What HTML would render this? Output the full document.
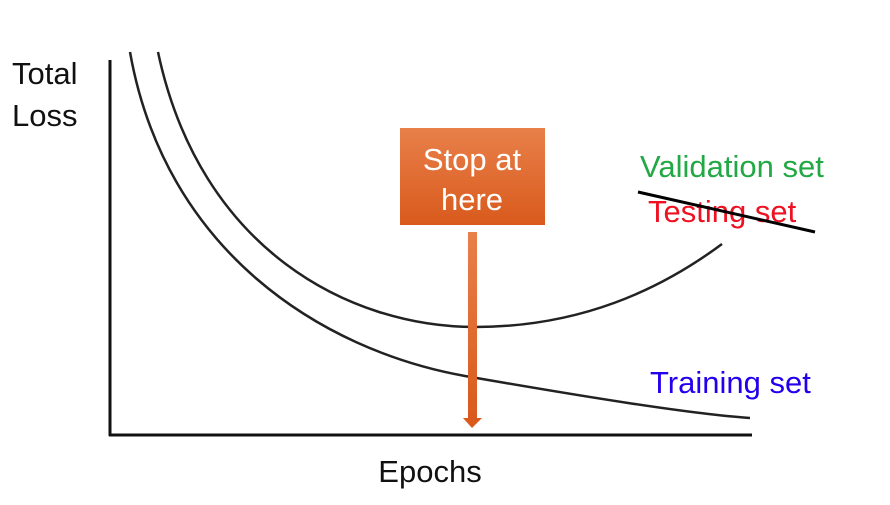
<!DOCTYPE html>
<html><head><style>
body{margin:0;background:#fff;}
svg text{font-family:"Liberation Sans",sans-serif;}
</style></head><body>
<svg width="890" height="500" viewBox="0 0 890 500" xmlns="http://www.w3.org/2000/svg">
<defs>
<linearGradient id="g" x1="0" y1="0" x2="0" y2="1">
<stop offset="0" stop-color="#e8804a"/><stop offset="1" stop-color="#d95a1c"/>
</linearGradient>
</defs>
<line x1="110" y1="60" x2="110" y2="436" stroke="#111" stroke-width="3"/>
<line x1="109" y1="435" x2="752" y2="435" stroke="#111" stroke-width="3"/>
<path d="M158,52 C200,250 350,327 475,327 C580,327 660,290 722,244" fill="none" stroke="#222" stroke-width="2.5"/>
<path d="M130,52 C165,250 320,350 465,376 C580,396 690,414 750,418" fill="none" stroke="#222" stroke-width="2.5"/>
<rect x="400" y="128" width="145" height="97" fill="url(#g)"/>
<text x="472" y="170" font-size="31" fill="#fff" text-anchor="middle">Stop at</text>
<text x="472" y="210" font-size="31" fill="#fff" text-anchor="middle">here</text>
<rect x="468" y="232" width="9" height="186" fill="url(#g)"/>
<polygon points="463,418 482,418 472,428" fill="#d95a1c"/>
<text x="12" y="84" font-size="31" fill="#111">Total</text>
<text x="12" y="126" font-size="31" fill="#111">Loss</text>
<text x="430" y="482" font-size="31" fill="#111" text-anchor="middle">Epochs</text>
<text x="640" y="177" font-size="31" fill="#22a844">Validation set</text>
<text x="648" y="222" font-size="31" fill="#ee1122">Testing set</text>
<line x1="638" y1="192" x2="815" y2="232" stroke="#000" stroke-width="3"/>
<text x="650" y="393" font-size="31" fill="#2200ee">Training set</text>
</svg>
</body></html>
